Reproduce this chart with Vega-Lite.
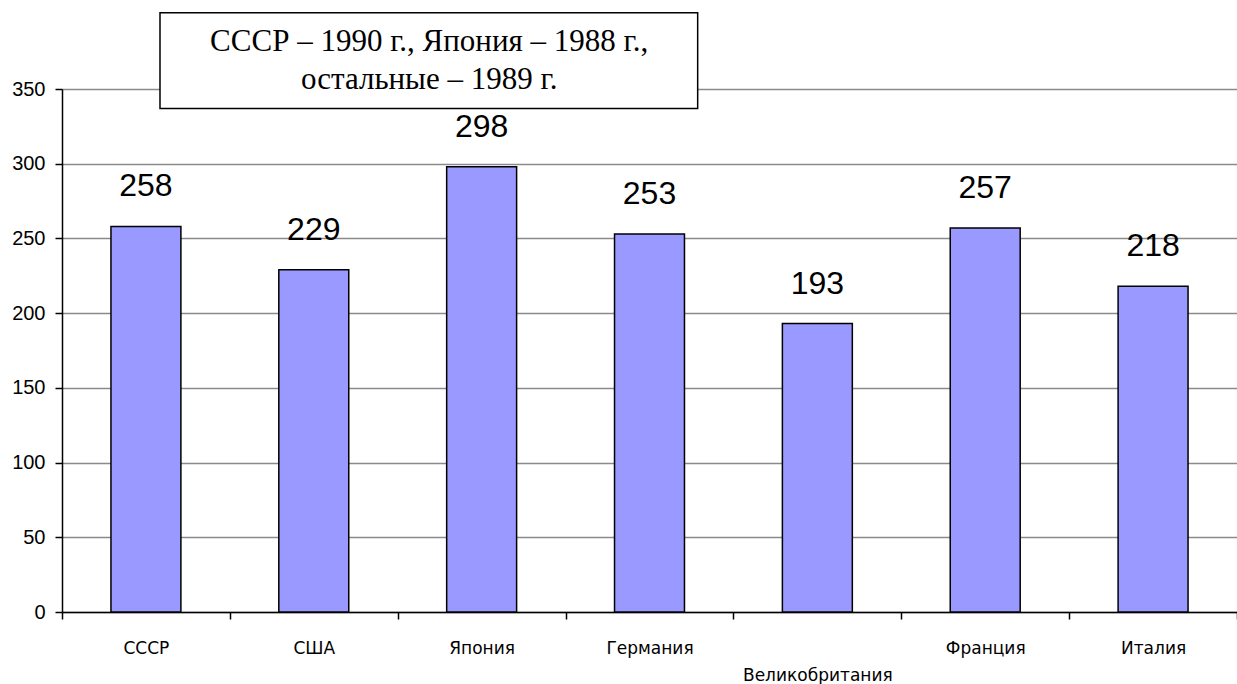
{
  "$schema": "https://vega.github.io/schema/vega-lite/v6.json",
  "autosize": "none",
  "width": 1175,
  "height": 523,
  "padding": {"left": 62, "top": 89, "right": 0, "bottom": 72},
  "background": "white",
  "config": {"view": {"stroke": null}},
  "data": {"values": [
    {"country": "СССР", "value": 258},
    {"country": "США", "value": 229},
    {"country": "Япония", "value": 298},
    {"country": "Германия", "value": 253},
    {"country": "Великобритания", "value": 193},
    {"country": "Франция", "value": 257},
    {"country": "Италия", "value": 218}
  ]},
  "layer": [
    {
      "mark": {"type": "bar", "fill": "#9999FF", "stroke": "black", "strokeWidth": 1.5, "width": {"band": 0.4167}},
      "encoding": {
        "x": {"field": "country", "type": "nominal", "sort": null,
          "scale": {"paddingInner": 0, "paddingOuter": 0},
          "axis": {"title": null, "orient": "bottom", "labelAngle": 0, "tickBand": "extent",
            "domainColor": "black", "domainWidth": 1.5, "tickColor": "black", "tickSize": 7, "tickWidth": 1.5,
            "labelFont": "DejaVu Sans", "labelFontSize": 17, "labelColor": "black", "labelPadding": 21, "labelBaseline": "top",
            "labelExpr": "datum.value == 'Великобритания' ? '' : datum.value"}},
        "y": {"field": "value", "type": "quantitative",
          "scale": {"domain": [0, 350], "nice": false},
          "axis": {"title": null, "values": [0, 50, 100, 150, 200, 250, 300, 350],
            "domainColor": "black", "domainWidth": 1.5, "tickColor": "black", "tickSize": 7, "tickWidth": 1.5,
            "labelFont": "Liberation Sans", "labelFontSize": 20, "labelColor": "black", "labelPadding": 10,
            "grid": true, "gridColor": "#8a8a8a", "gridWidth": 1.5}}
      }
    },
    {
      "mark": {"type": "text", "font": "Liberation Sans", "fontSize": 32, "fill": "black", "baseline": "alphabetic", "dy": -30},
      "encoding": {
        "x": {"field": "country", "type": "nominal", "sort": null,
          "scale": {"paddingInner": 0, "paddingOuter": 0},
          "axis": {"title": null, "orient": "bottom", "labelAngle": 0, "domain": false, "ticks": false, "grid": false,
            "labelFont": "DejaVu Sans", "labelFontSize": 17, "labelColor": "black", "labelPadding": 55, "labelBaseline": "top",
            "labelExpr": "datum.value == 'Великобритания' ? datum.value : ''"}},
        "y": {"field": "value", "type": "quantitative"},
        "text": {"field": "value", "type": "quantitative"}
      }
    },
    {
      "data": {"values": [{}]},
      "mark": {"type": "rect", "fill": "white", "stroke": "black", "strokeWidth": 1.5, "clip": false},
      "encoding": {
        "x": {"datum": 0.0834, "type": "quantitative", "scale": {"domain": [0, 1], "nice": false}, "axis": null},
        "x2": {"datum": 0.541},
        "y": {"datum": 337, "type": "quantitative"},
        "y2": {"datum": 401}
      }
    },
    {
      "data": {"values": [{}]},
      "mark": {"type": "text", "font": "Liberation Serif", "fontSize": 31, "fill": "black", "align": "center", "baseline": "middle", "lineHeight": 38, "clip": false},
      "encoding": {
        "x": {"datum": 0.3125, "type": "quantitative", "scale": {"domain": [0, 1], "nice": false}, "axis": null},
        "y": {"datum": 381.4, "type": "quantitative"},
        "text": {"value": ["СССР – 1990 г., Япония – 1988 г.,", "остальные – 1989 г."]}
      }
    }
  ],
  "resolve": {"scale": {"x": "independent"}}
}
